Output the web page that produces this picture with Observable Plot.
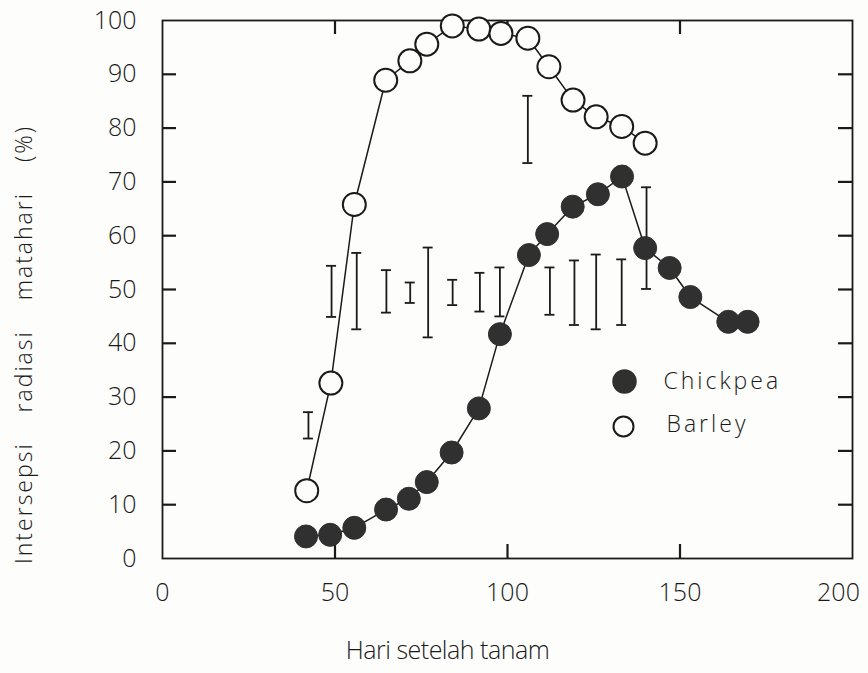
<!DOCTYPE html>
<html><head><meta charset="utf-8">
<script src="https://cdn.jsdelivr.net/npm/d3@7"></script>
<script src="https://cdn.jsdelivr.net/npm/@observablehq/plot@0.6"></script>
<style>
html,body{margin:0;padding:0;background:#fdfdfb;}
#chart svg{display:block;}
</style>
</head><body><div id="chart"></div>
<script>
// ---- data ----
const barleyDays = [41.8, 48.8, 55.6, 64.7, 71.7, 76.6, 84.0, 91.7, 98.1, 105.9, 112.0, 119.0, 125.7, 133.1, 139.9];
const barleyPct  = [12.6, 32.6, 65.8, 88.9, 92.5, 95.6, 99.0, 98.4, 97.6, 96.7, 91.4, 85.2, 82.1, 80.3, 77.2];
const chickpeaDays = [41.6, 48.6, 55.6, 64.8, 71.4, 76.6, 83.8, 91.7, 97.8, 106.2, 111.5, 118.9, 126.2, 133.2, 139.9, 147.0, 153.0, 164.0, 169.6];
const chickpeaPct  = [4.1, 4.4, 5.7, 9.1, 11.1, 14.2, 19.7, 27.9, 41.7, 56.4, 60.3, 65.4, 67.7, 71.0, 57.7, 54.0, 48.6, 44.0, 44.0];
const errDays = [42.3, 49.0, 56.3, 64.9, 71.8, 77.0, 84.1, 92.0, 97.8, 105.9, 112.3, 119.4, 125.7, 133.1, 140.3];
const errLow  = [22.3, 44.9, 42.6, 45.7, 47.5, 41.1, 47.1, 45.9, 45.0, 73.5, 45.3, 43.4, 42.6, 43.4, 50.1];
const errHigh = [27.2, 54.4, 56.8, 53.6, 51.3, 57.8, 51.8, 53.1, 54.1, 86.0, 54.1, 55.4, 56.5, 55.6, 69.0];
const xTickValues = [0, 50, 100, 150, 200];
const yTickValues = [0, 10, 20, 30, 40, 50, 60, 70, 80, 90, 100];
const seriesNames = ["Chickpea", "Barley"];
const xTitle = "Hari setelah tanam";
const yTitle = "Intersepsi radiasi matahari (%)";

// ---- tables built from the arrays ----
const barley = barleyDays.map((d, i) => ({day: d, pct: barleyPct[i]}));
const chickpea = chickpeaDays.map((d, i) => ({day: d, pct: chickpeaPct[i]}));
const errors = errDays.map((d, i) => ({day: d, lo: errLow[i], hi: errHigh[i]}));
const xMin = xTickValues[0], xMax = xTickValues[xTickValues.length - 1];
const yMin = yTickValues[0], yMax = yTickValues[yTickValues.length - 1];

// ---- layout ----
const W = 868, H = 673, mL = 162, mR = 16, mT = 20, mB = 115;
const innerW = W - mL - mR, innerH = H - mT - mB;
const tickLen = 14;                                 // px, inward tick length
const tickDX = tickLen * (xMax - xMin) / innerW;    // same length in x units
const tickDY = tickLen * (yMax - yMin) / innerH;    // same length in y units

// inward tick segments built from the tick arrays
const xTickSegs = xTickValues.slice(1, -1).flatMap(v => [
  {v, a: yMin, b: yMin + tickDY},
  {v, a: yMax - tickDY, b: yMax}
]);
const yTickSegs = yTickValues.slice(1, -1).flatMap(v => [
  {v, a: xMin, b: xMin + tickDX},
  {v, a: xMax - tickDX, b: xMax}
]);

const ink = "#1a1a1a";
const font = "'Open Sans', 'DejaVu Sans', sans-serif";

const chart = Plot.plot({
  width: W,
  height: H,
  marginLeft: mL,
  marginRight: mR,
  marginTop: mT,
  marginBottom: mB,
  style: {background: "#fdfdfb", fontFamily: font, color: ink},
  x: {domain: [xMin, xMax], axis: null},
  y: {domain: [yMin, yMax], axis: null},
  marks: [
    Plot.frame({stroke: ink, strokeWidth: 1.8}),
    // inward tick marks on all four sides
    Plot.ruleX(xTickSegs, {x: "v", y1: "a", y2: "b", stroke: ink, strokeWidth: 2.2}),
    Plot.ruleY(yTickSegs, {y: "v", x1: "a", x2: "b", stroke: ink, strokeWidth: 2.2}),
    // tick labels
    Plot.axisY(yTickValues, {anchor: "left", tickSize: 0, tickPadding: 26, fontSize: 25, fontWeight: 300, label: null}),
    Plot.axisX(xTickValues.slice(0, -1), {anchor: "bottom", tickSize: 0, tickPadding: 25, fontSize: 25, fontWeight: 300, label: null}),
    Plot.axisX(xTickValues.slice(-1), {anchor: "bottom", tickSize: 0, tickPadding: 25, fontSize: 25, fontWeight: 300, label: null, dx: -14}),
    // axis titles
    Plot.text([yTitle], {frameAnchor: "left", textAnchor: "middle", lineAnchor: "middle", rotate: -90, dx: -138, dy: 55, fontSize: 23, fontWeight: 300, fill: ink, className: "ytitle"}),
    Plot.text([xTitle], {frameAnchor: "bottom", textAnchor: "middle", lineAnchor: "middle", dx: -60, dy: 92, fontSize: 25, fontWeight: 300, fill: ink, className: "xtitle"}),
    // error bars
    Plot.ruleX(errors, {x: "day", y1: "lo", y2: "hi", stroke: ink, strokeWidth: 1.8}),
    Plot.ruleY(errors, {y: "lo", x1: "day", x2: "day", insetLeft: -5, insetRight: -5, stroke: ink, strokeWidth: 1.8}),
    Plot.ruleY(errors, {y: "hi", x1: "day", x2: "day", insetLeft: -5, insetRight: -5, stroke: ink, strokeWidth: 1.8}),
    // series
    Plot.line(barley, {x: "day", y: "pct", stroke: ink, strokeWidth: 1.5}),
    Plot.line(chickpea, {x: "day", y: "pct", stroke: ink, strokeWidth: 1.5}),
    Plot.dot(barley, {x: "day", y: "pct", r: 11.5, fill: "#fdfdfb", stroke: ink, strokeWidth: 2}),
    Plot.dot(chickpea, {x: "day", y: "pct", r: 11.5, fill: "#303030", stroke: "#303030", strokeWidth: 1}),
    // legend
    Plot.dot([seriesNames[0]], {x: null, y: null, frameAnchor: "top-left", dx: 462, dy: 361, r: 11.5, fill: "#303030", stroke: "#303030"}),
    Plot.dot([seriesNames[1]], {x: null, y: null, frameAnchor: "top-left", dx: 461, dy: 406, r: 10, fill: "none", stroke: ink, strokeWidth: 2}),
    Plot.text([seriesNames[0]], {frameAnchor: "top-left", textAnchor: "start", lineAnchor: "middle", dx: 501, dy: 361, fontSize: 23, fontWeight: 300, fill: ink, className: "legtext"}),
    Plot.text([seriesNames[1]], {frameAnchor: "top-left", textAnchor: "start", lineAnchor: "middle", dx: 504, dy: 404, fontSize: 23, fontWeight: 300, fill: ink, className: "legtext"})
  ]
});
document.getElementById("chart").appendChild(chart);
d3.select(chart).selectAll(".legtext text").style("letter-spacing", "3px");
d3.select(chart).selectAll(".ytitle text").style("letter-spacing", "2px").style("word-spacing", "22px");
d3.select(chart).selectAll(".xtitle text").style("letter-spacing", "-0.5px");
</script>
</body></html>
